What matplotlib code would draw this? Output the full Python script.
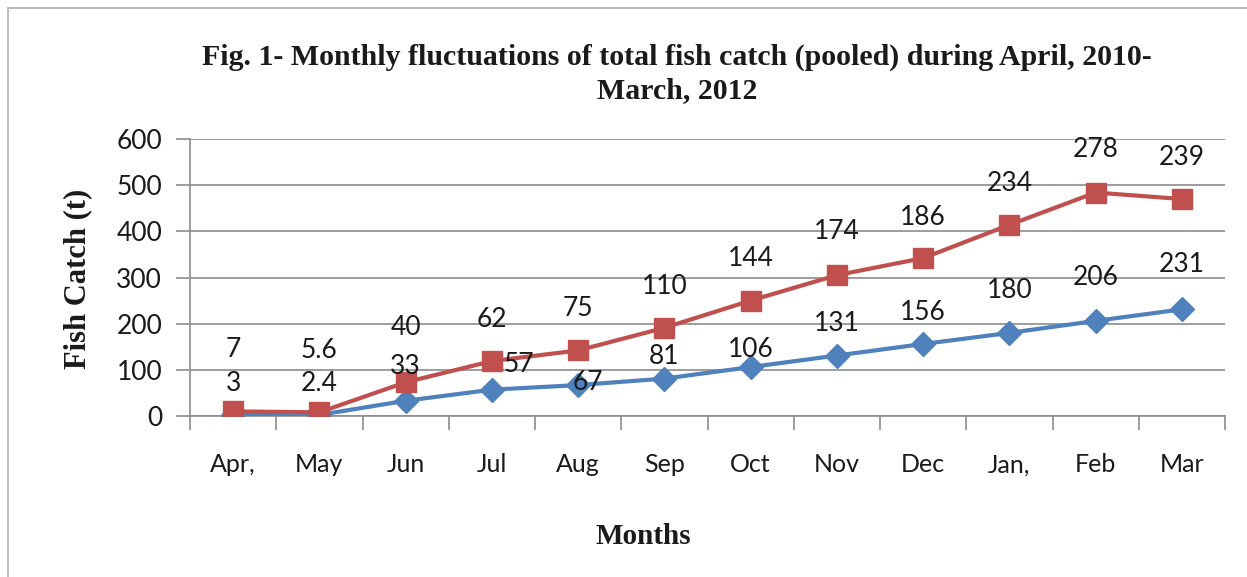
import matplotlib
matplotlib.use("Agg")
import matplotlib.pyplot as plt
from matplotlib.patches import Rectangle

months = ["Apr,", "May", "Jun", "Jul", "Aug", "Sep", "Oct", "Nov", "Dec", "Jan,", "Feb", "Mar"]
series_a = [3, 2.4, 33, 57, 67, 81, 106, 131, 156, 180, 206, 231]      # blue
series_b = [7, 5.6, 40, 62, 75, 110, 144, 174, 186, 234, 278, 239]     # red, stacked on blue

# label offsets in pixels (dx, dy)
blue_dx = [0, 0, 0, 27, 10, 0, 0, 0, 0, 0, 0, 0]
blue_dy = [31, 31, 34, 25, 3, 22, 18, 32, 31, 42, 43, 45]
red_dy = [62, 62, 55, 42, 42, 41, 42, 44, 41, 41, 43, 42]

BLUE = "#4F81BD"
RED = "#C0504D"
GRID = "#8C8C8C"
TXT = "#1a1a1a"

fig = plt.figure(figsize=(12.47, 5.77), dpi=100)
fig.patches.append(Rectangle((8 / 1247, -0.01), 1.1, 1 - 8 / 577 + 0.01, transform=fig.transFigure,
                             fill=False, edgecolor="#BDBDBD", linewidth=1.5))
ax = fig.add_axes([190 / 1247, 1 - 416 / 577, (1225 - 190) / 1247, (416 - 139) / 577])

x = list(range(len(months)))
stacked = [a + b for a, b in zip(series_a, series_b)]

ax.plot(x, series_a, color=BLUE, linewidth=3, marker="D", markersize=12, zorder=3)
ax.plot(x, stacked, color=RED, linewidth=3, marker="s", markersize=15, zorder=4)

lab_font = dict(family="Lato", fontsize=19, color=TXT)
for i in x:
    ax.annotate(f"{series_a[i]:g}", (x[i], series_a[i]), xytext=(blue_dx[i], blue_dy[i]),
                textcoords="offset pixels", ha="center", va="center", zorder=5, **lab_font)
    ax.annotate(f"{series_b[i]:g}", (x[i], stacked[i]), xytext=(0, red_dy[i]),
                textcoords="offset pixels", ha="center", va="center", zorder=5, **lab_font)

ax.set_xlim(-0.5, 11.5)
ax.set_ylim(0, 600)
ax.set_yticks(range(0, 601, 100))
ax.grid(axis="y", color=GRID, linewidth=1.2)
ax.set_axisbelow(True)

ax.set_xticks(x)
ax.set_xticklabels(months, fontfamily="Lato", fontsize=18, color=TXT)
ax.set_xticks([i - 0.5 for i in range(13)], minor=True)
ax.tick_params(axis="x", which="major", length=0, pad=27)
ax.tick_params(axis="x", which="minor", length=10, color=GRID, width=1.2)
ax.tick_params(axis="y", length=10, color=GRID, width=1.2, pad=10)
for lab in ax.get_yticklabels():
    lab.set_fontfamily("Lato")
    lab.set_fontsize(19)
    lab.set_color(TXT)

for s in ["top", "right"]:
    ax.spines[s].set_visible(False)
for s in ["left", "bottom"]:
    ax.spines[s].set_color(GRID)
    ax.spines[s].set_linewidth(1.2)

serif = dict(family="Liberation Serif", fontweight="bold", color=TXT)
fig.text(677 / 1247, 1 - 57 / 577, "Fig. 1- Monthly fluctuations of total fish catch (pooled) during April, 2010-",
         ha="center", va="center", fontsize=21.5, **serif)
fig.text(677 / 1247, 1 - 91 / 577, "March, 2012", ha="center", va="center", fontsize=21.5, **serif)
fig.text(78 / 1247, 1 - 279 / 577, "Fish Catch (t)", rotation=90, ha="center", va="center", fontsize=22, **serif)
fig.text(643 / 1247, 1 - 537 / 577, "Months", ha="center", va="center", fontsize=21, **serif)

fig.savefig("out.png", dpi=100)
